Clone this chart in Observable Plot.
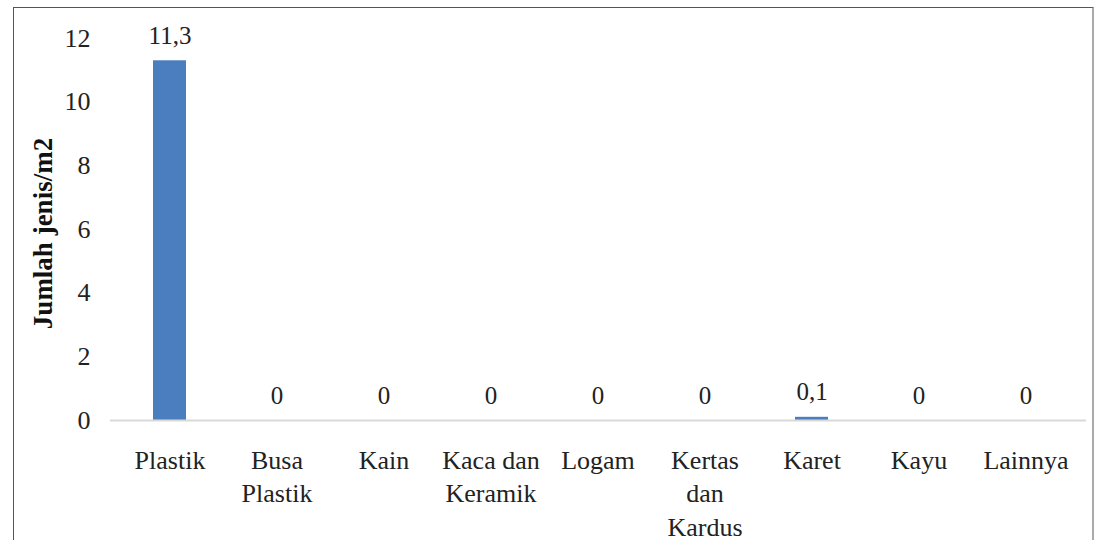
<!DOCTYPE html>
<html>
<head>
<meta charset="utf-8">
<script src="https://cdn.jsdelivr.net/npm/d3@7"></script>
<script src="https://cdn.jsdelivr.net/npm/@observablehq/plot@0.6"></script>
<style>
  html, body { margin: 0; padding: 0; background: #fff; }
  #wrap { position: relative; width: 1097px; height: 540px; overflow: hidden; }
  #frame { position: absolute; left: 13px; top: 7px; width: 1078px; height: 600px;
           border-top: 1px solid #555; border-left: 1px solid #555; border-right: 2px solid #aaa;
           pointer-events: none; }
  #chart { position: absolute; left: 0; top: 0; }
  #chart svg, #chart svg text { font-family: "Liberation Serif", "Times New Roman", serif !important; }
</style>
</head>
<body>
<div id="wrap"><div id="chart"></div><div id="frame"></div></div>
<script>
const categories = ["Plastik", "Busa Plastik", "Kain", "Kaca dan Keramik", "Logam", "Kertas dan Kardus", "Karet", "Kayu", "Lainnya"];
const tickLabels = ["Plastik", "Busa\nPlastik", "Kain", "Kaca dan\nKeramik", "Logam", "Kertas\ndan\nKardus", "Karet", "Kayu", "Lainnya"];
const values = [11.3, 0, 0, 0, 0, 0, 0.1, 0, 0];
const yTicks = [0, 2, 4, 6, 8, 10, 12];
const yTitle = "Jumlah jenis/m2";

const data = categories.map((c, i) => ({category: c, value: values[i]}));
const labelOf = new Map(categories.map((c, i) => [c, tickLabels[i]]));
const fmt = v => String(v).replace(".", ",");
const font = "Liberation Serif";

const chart = Plot.plot({
  width: 1097,
  height: 540,
  marginLeft: 110,
  marginRight: 11,
  marginTop: 38,
  marginBottom: 120,
  style: {fontFamily: font, color: "#222", background: "transparent"},
  x: {domain: categories, paddingInner: 0.69, paddingOuter: 0.37},
  y: {domain: [0, 12]},
  marks: [
    Plot.axisY({ticks: yTicks, tickSize: 0, tickPadding: 20, fontSize: 26, fontFamily: font, label: null}),
    Plot.axisX({tickSize: 0, tickPadding: 25, fontSize: 26, fontFamily: font, lineHeight: 1.28, tickFormat: d => labelOf.get(d), label: null}),
    Plot.barY(data, {x: "category", y: "value", fill: "#4a7ebf"}),
    Plot.ruleY([0], {stroke: "#d9d9d9", strokeWidth: 2}),
    Plot.text(data, {x: "category", y: "value", text: d => fmt(d.value), dy: -25, lineAnchor: "middle", fontSize: 25, fontFamily: font, fill: "#222"}),
    Plot.text([yTitle], {frameAnchor: "left", dx: -67, dy: 4, rotate: -90, text: d => d, textAnchor: "middle", fontSize: 27, fontWeight: "bold", fontFamily: font, fill: "#111", lineAnchor: "middle"})
  ]
});
document.getElementById("chart").appendChild(chart);
</script>
</body>
</html>
